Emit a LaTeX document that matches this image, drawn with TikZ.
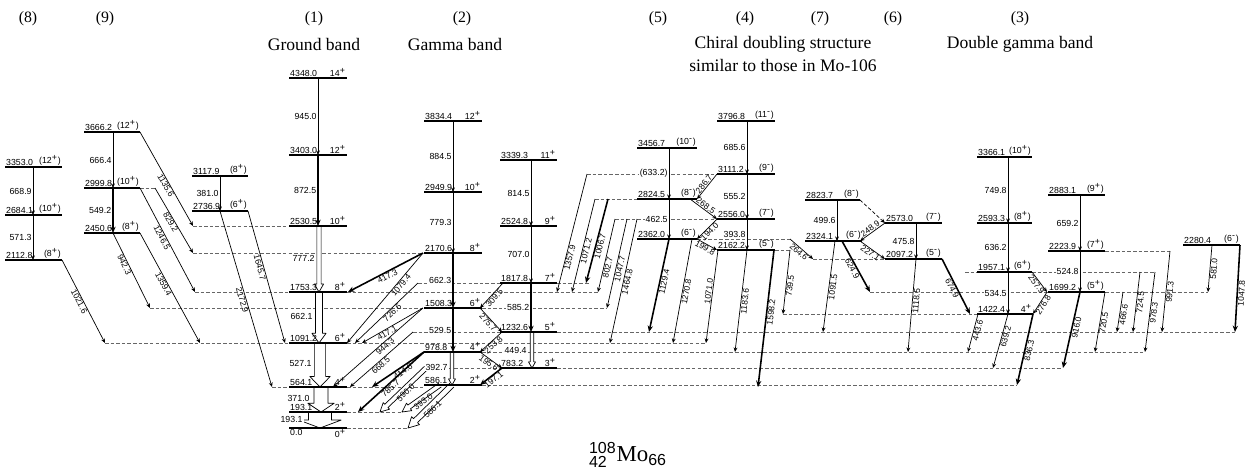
\documentclass[tikz,border=0pt]{standalone}
\usepackage{fontspec}
\setmainfont{Liberation Serif}
\setsansfont{Liberation Sans}
\usetikzlibrary{calc,arrows.meta}

\newcommand{\nf}{\sffamily\fontsize{5}{6}\selectfont}
\newcommand{\tf}{\rmfamily\fontsize{10}{12}\selectfont}
\newcommand{\spp}{\textsuperscript{+}}
\newcommand{\smm}{\textsuperscript{-}}
% open (hollow) intensity arrow: start, end, half width, head half width, head length
\newcommand{\hollowarr}[5]{%
  \coordinate (ha) at (#1);
  \coordinate (hb) at (#2);
  \coordinate (hh) at ($(hb)!#5!(ha)$);
  \filldraw[hol] ($(ha)!#3!90:(hb)$) -- ($(hh)!#3!90:(hb)$) -- ($(hh)!#4!90:(hb)$) -- (hb)
    -- ($(hh)!#4!-90:(hb)$) -- ($(hh)!#3!-90:(hb)$) -- ($(ha)!#3!-90:(hb)$);
}

\tikzset{
  lev/.style={line width=0.9pt},
  ext/.style={line width=0.4pt, black!60, dash pattern=on 2pt off 1.2pt},
  tr/.style={line width=0.4pt, -{Stealth[length=2.6pt,width=2.2pt]}},
  trb/.style={line width=0.9pt, -{Stealth[length=3.6pt,width=3pt]}},
  hol/.style={line width=0.4pt, fill=white},
  elab/.style={anchor=south west, inner sep=0.5pt},
  slab/.style={anchor=south east, inner sep=0.5pt},
  vl/.style={left, inner sep=0.6pt, fill=white},
  dl/.style={sloped, inner sep=0.3pt, font=\sffamily\fontsize{4.8}{5}\selectfont},
  ttl/.style={font=\tf, inner sep=0pt},
}

\begin{document}
\begin{tikzpicture}[x=0.02cm, y=-0.02cm, line join=round, font=\nf]
\useasboundingbox (0,0) rectangle (1252,474);

% level heights
\foreach \n/\y in {E4348/78, E3403/155, E2530/226, E1753/292, E1091/343, E564/387, E193/412, E0/428,
  E3834/121, E2949/192, E2170/253, E1508/308, E978/352, E586/385,
  E3339/160, E2524/226, E1817/283, E1232/332, E783/368,
  E3353/167, E2684/215, E2112/260, E3666/132, E2999/188, E2450/233, E3117/176, E2736/211,
  E3456/148, E2824/199, E2362/239, E3796/121, E3111/174, E2556/219, E2162/250,
  E2823/200, E2324/241, E2573/223, E2097/259,
  E3366/157, E2593/223, E1957/272, E1422/314, E2883/195, E2223/251, E1699/292, E2280/245}
  \coordinate (\n) at (0,\y);

% dashed level extensions
\foreach \n/\a/\b in {E2530/193/289, E2170/193/423, E1753/195/289, E1753/347/598,
  E1508/150/424, E1508/482/607, E1091/105/289, E1091/347/706, E564/272/289, E564/347/423,
  E193/347/402, E0/347/408, E2999/140/155, E1817/418/500, E1817/557/590,
  E1232/413/500, E1232/557/1235, E978/482/1145, E783/426/500, E783/557/1063, E586/482/1017,
  E3111/587/717, E2824/595/637, E2556/615/717, E2362/697/790, E2162/775/790, E2097/813/885,
  E1699/870/1048, E1699/1105/1208, E1422/783/977, E1957/965/977, E1957/1032/1155, E2223/1105/1170}
  \draw[ext] (\a,0 |- \n) -- (\b,0 |- \n);

% hollow intensity arrows
\hollowarr{319,0 |- E2530}{319,0 |- E1753}{1.2pt}{2.6pt}{4.5pt}
\hollowarr{319,0 |- E1753}{319,0 |- E1091}{2pt}{4pt}{5.5pt}
\hollowarr{320,0 |- E1091}{320,0 |- E564}{3.2pt}{5.8pt}{6pt}
\hollowarr{321,0 |- E564}{321,0 |- E193}{4pt}{7.5pt}{5pt}
\hollowarr{320,0 |- E193}{320,0 |- E0}{6.5pt}{12pt}{4.5pt}
\hollowarr{452,0 |- E978}{452,0 |- E586}{1pt}{2pt}{3.5pt}
\hollowarr{532,0 |- E1232}{532,0 |- E783}{1pt}{2pt}{3.5pt}
\hollowarr{426,0 |- E783}{380,0 |- E193}{1.3pt}{2.6pt}{5pt}
\hollowarr{440,0 |- E586}{402,0 |- E193}{1.3pt}{2.6pt}{5pt}
\hollowarr{452,0 |- E586}{408,0 |- E0}{1.6pt}{3.2pt}{6pt}

% levels
\foreach \n/\a/\b/\e/\s in {E4348/289/347/4348.0/14\spp, E3403/289/347/3403.0/12\spp,
  E2530/289/347/2530.5/10\spp, E1753/289/347/1753.3/8\spp, E1091/289/347/1091.2/6\spp,
  E564/289/347/564.1/4\spp, E193/289/347/193.1/2\spp,
  E3834/424/482/3834.4/12\spp, E2949/424/482/2949.9/10\spp, E2170/424/482/2170.6/8\spp,
  E1508/424/482/1508.3/6\spp, E978/424/482/978.8/4\spp, E586/424/482/586.1/2\spp,
  E3339/500/557/3339.3/11\spp, E2524/500/557/2524.8/9\spp, E1817/500/557/1817.8/7\spp,
  E1232/500/557/1232.6/5\spp, E783/500/557/783.2/3\spp,
  E3353/5/62/3353.0/(12\spp), E2684/5/62/2684.1/(10\spp), E2112/5/62/2112.8/(8\spp),
  E3666/84/140/3666.2/(12\spp), E2999/84/140/2999.8/(10\spp), E2450/84/140/2450.6/(8\spp),
  E3117/192/248/3117.9/(8\spp), E2736/192/248/2736.9/(6\spp),
  E3456/637/697/3456.7/(10\smm), E2824/637/697/2824.5/(8\smm), E2362/637/697/2362.0/(6\smm),
  E3796/717/775/3796.8/(11\smm), E3111/717/775/3111.2/(9\smm), E2556/717/775/2556.0/(7\smm),
  E2162/717/775/2162.2/(5\smm), E2823/805/860/2823.7/(8\smm), E2324/805/862/2324.1/(6\smm),
  E2573/885/942/2573.0/(7\smm), E2097/885/942/2097.2/(5\smm),
  E3366/977/1032/3366.1/(10\spp), E2593/977/1032/2593.3/(8\spp), E1957/977/1032/1957.1/(6\spp),
  E1422/977/1033/1422.4/4\spp, E2883/1048/1105/2883.1/(9\spp), E2223/1048/1105/2223.9/(7\spp),
  E1699/1048/1105/1699.2/(5\spp), E2280/1183/1240/2280.4/(6\smm)}{
  \draw[lev] (\a,0 |- \n) -- (\b,0 |- \n);
  \node[elab] (\n-e) at (\a,0 |- \n) {\e};
  \node[slab] (\n-s) at (\b,0 |- \n) {\s};
}
\draw[lev] (289,0 |- E0) -- (347,0 |- E0);
\node[anchor=north west, inner sep=0.5pt] (E0-e) at (289,0 |- E0) {0.0};
\node[anchor=north east, inner sep=0.5pt] (E0-s) at (347,0 |- E0) {0\spp};

% in-band transitions
\foreach \a/\p/\q/\l/\st in {318/E4348/E3403/945.0/tr, 318/E3403/E2530/872.5/trb,
  453/E3834/E2949/884.5/tr, 453/E2949/E2170/779.3/tr, 453/E2170/E1508/662.3/trb, 453/E1508/E978/529.5/trb,
  531/E3339/E2524/814.5/tr, 531/E2524/E1817/707.0/tr, 531/E1817/E1232/585.2/trb,
  33/E3353/E2684/668.9/tr, 33/E2684/E2112/571.3/tr, 113/E3666/E2999/666.4/tr, 113/E2999/E2450/549.2/trb,
  220/E3117/E2736/381.0/tr, 669/E3456/E2824/(633.2)/tr, 669/E2824/E2362/462.5/tr,
  747/E3796/E3111/685.6/tr, 747/E3111/E2556/555.2/tr, 747/E2556/E2162/393.8/tr,
  837/E2823/E2324/499.6/tr, 916/E2573/E2097/475.8/tr,
  1008/E3366/E2593/749.8/tr, 1008/E2593/E1957/636.2/tr, 1008/E1957/E1422/534.5/tr,
  1080/E2883/E2223/659.2/tr, 1080/E2223/E1699/524.8/tr}
  \draw[\st] (\a,0 |- \p) -- (\a,0 |- \q) node[vl, midway] {\l};

% interband transitions: from x / level, to x / level, label, style, side, position
\foreach \a/\p/\b/\q/\l/\st/\sd/\ps in {140/E3666/193/E2530/1135.6/tr/below/0.55,
  155/E2999/193/E2170/829.2/tr/below/0.5, 140/E2999/195/E1753/1246.5/tr/below/0.46,
  113/E2450/150/E1508/942.3/tr/below/0.4, 140/E2450/200/E1091/1359.4/tr/below/0.45,
  62/E2112/105/E1091/1021.6/tr/below/0.48, 220/E2736/272/E564/2172.9/tr/below/0.5,
  248/E2736/285/E1091/1645.7/tr/below/0.42,
  423/E2170/348/E1753/417.3/trb/below/0.5, 423/E2170/347/E1091/1079.4/tr/below/0.33,
  418/E1817/355/E1091/726.6/tr/below/0.45, 423/E1508/362/E1091/417.1/tr/below/0.62,
  423/E1508/333/E564/944.3/tr/below/0.45, 413/E1232/350/E564/668.5/tr/below/0.55,
  424/E978/372/E564/414.6/trb/below/0.45, 424/E978/358/E193/785.7/trb/below/0.55,
  503/E1817/480/E1508/309.5/tr/below/0.5, 480/E1508/502/E1232/275.7/tr/below/0.5,
  502/E1232/480/E978/253.8/tr/below/0.5, 480/E978/502/E783/195.6/tr/below/0.5,
  502/E783/480/E586/197.1/trb/below/0.5,
  587/E3111/557/E1753/1357.9/tr/below/0.7, 595/E2824/572/E1753/1071.2/tr/below/0.55,
  608/E2824/586/E1817/1006.7/trb/below/0.55, 615/E2556/598/E1753/802.7/tr/below/0.65,
  627/E2556/607/E1508/1047.7/tr/below/0.55, 637/E2556/610/E1091/1464.8/tr/below/0.5,
  669/E2362/649/E1232/1129.4/trb/below/0.45, 692/E2362/673/E1091/1270.8/tr/below/0.5,
  717/E3111/697/E2824/286.7/tr/above/0.5, 690/E2824/717/E2556/268.5/tr/above/0.5,
  717/E2556/697/E2362/194.0/tr/below/0.5, 697/E2362/717/E2162/199.8/tr/below/0.5,
  718/E2162/706/E1091/1071.0/tr/above/0.45, 747/E2162/735/E978/1183.6/tr/below/0.5,
  774/E2162/758/E564/1598.2/trb/below/0.45, 790/E2162/783/E1422/739.5/tr/below/0.55,
  790/E2362/813/E2097/264.6/tr/below/0.5,
  835/E2324/823/E1232/1091.5/tr/below/0.5, 842/E2324/870/E1699/624.9/trb/below/0.5,
  885/E2573/860/E2324/248.9/tr/above/0.5, 860/E2324/885/E2097/227.1/tr/below/0.5,
  916/E2097/908/E978/1118.5/tr/below/0.45, 942/E2097/970/E1422/674.9/trb/below/0.5,
  1032/E1957/1047/E1699/257.9/tr/below/0.5, 1047/E1699/1033/E1422/276.8/tr/below/0.5,
  978/E1422/968/E978/443.6/tr/below/0.4, 1008/E1422/993/E783/639.2/tr/below/0.4,
  1033/E1422/1017/E586/836.3/trb/below/0.5, 1080/E1699/1063/E783/916.0/trb/below/0.45,
  1105/E1699/1095/E978/720.5/tr/below/0.5, 1123/E1699/1117/E1232/466.6/tr/below/0.55,
  1140/E1957/1133/E1232/724.5/tr/below/0.5, 1155/E1957/1145/E978/978.3/tr/below/0.5,
  1170/E2223/1162/E1232/991.3/tr/below/0.5, 1212/E2280/1208/E1699/581.0/tr/below/0.5,
  1240/E2280/1235/E1232/1047.8/trb/below/0.55}
  \draw[\st] (\a,0 |- \p) -- (\b,0 |- \q) node[dl, \sd, pos=\ps] {\l};
\draw[tr, dash pattern=on 2pt off 1.2pt] (860,0 |- E2823) -- (885,0 |- E2573);

% labels of the hollow arrows
\node[vl] (t777) at (316,258) {777.2};
\node[vl] (t662) at (314,316) {662.1};
\node[vl] (t527) at (313,363) {527.1};
\node[vl] (t371) at (311,398) {371.0};
\node[vl] (t193) at (304,419) {193.1};
\node[vl] (t392) at (449,367) {392.7};
\node[vl] (t449) at (528,350) {449.4};
\path (426,0 |- E783) -- (380,0 |- E193) node[dl, below, pos=0.5] (t590) {590.0};
\path (440,0 |- E586) -- (402,0 |- E193) node[dl, below, pos=0.5] (t393) {393.0};
\path (452,0 |- E586) -- (408,0 |- E0) node[dl, below, pos=0.5] (t586) {586.1};

% band titles
\foreach \x/\t in {28/(8), 105/(9), 314/(1), 462/(2), 658/(5), 745/(4), 820/(7), 893/(6), 1020/(3)}
  \node[ttl, font=\rmfamily\fontsize{9}{11}\selectfont] (n\t) at (\x,19) {\t};
\node[ttl] (gb) at (314,44) {Ground band};
\node[ttl] (gam) at (455,44) {Gamma band};
\node[ttl] (chi) at (783,44) {Chiral doubling structure};
\node[ttl] (sim) at (783,65) {similar to those in Mo-106};
\node[ttl] (dgb) at (1020,44) {Double gamma band};
\node (nuc) at (628,455) {\rmfamily\fontsize{13}{15}\selectfont ${}^{\mathsf{108}}_{\mathsf{42}}$Mo$_{\mathsf{66}}$};
\end{tikzpicture}
\end{document}
